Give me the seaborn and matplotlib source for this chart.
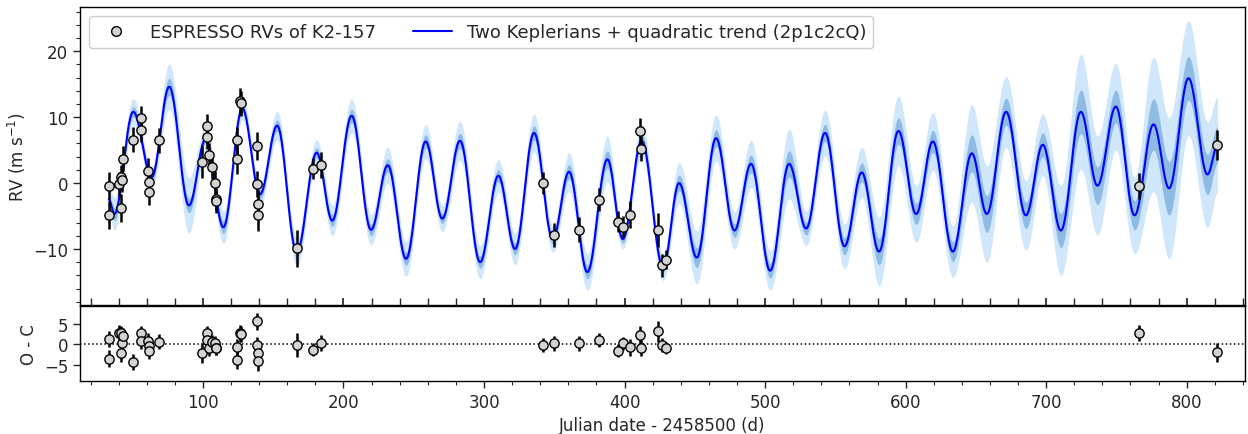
import numpy as np
import pandas as pd
import matplotlib
matplotlib.use("Agg")
import matplotlib.pyplot as plt
from matplotlib.lines import Line2D
from matplotlib.ticker import MultipleLocator
import seaborn as sns

# ---------------- data ----------------
# observations (Julian date - 2458500, RV in m/s, error, O-C residual)
t_obs = [33.3, 33.3, 40.4, 41.4, 42.6, 41.4, 43.3, 50.4, 55.6, 55.6, 60.6, 61.6,
         61.6, 68.7, 99.5, 103.1, 103.1, 104.3, 106.6, 108.5, 109.0, 109.5,
         124.0, 124.0, 126.2, 126.8, 138.2, 138.2, 139.4, 139.4, 167.1, 178.1,
         184.0, 341.8, 349.8, 367.8, 381.9, 395.6, 398.7, 403.9, 411.0, 411.7,
         423.6, 426.5, 429.5, 766.4, 821.5]
rv_obs = [-0.4, -4.8, -0.15, 0.9, 0.5, -3.8, 3.7, 6.6, 9.8, 8.1, 1.8, 0.1,
          -1.3, 6.5, 3.2, 8.6, 7.0, 4.2, 2.5, 0.0, -2.4, -2.8,
          6.5, 3.6, 12.4, 12.1, 5.6, -0.15, -3.2, -4.8, -9.9, 2.2,
          2.7, 0.0, -7.9, -7.1, -2.5, -5.9, -6.6, -4.8, 7.9, 5.2,
          -7.1, -12.5, -11.6, -0.5, 5.8]
err_obs = [2.0, 2.1, 1.8, 1.8, 1.9, 2.1, 1.9, 1.9, 1.9, 1.9, 2.0, 2.0,
           2.0, 1.9, 2.5, 1.9, 1.9, 1.9, 1.9, 1.8, 1.7, 1.7,
           2.0, 2.2, 2.0, 1.9, 2.1, 2.0, 2.1, 2.4, 2.85, 1.6,
           2.0, 1.7, 1.8, 1.9, 1.7, 1.6, 1.6, 2.0, 2.0, 1.9,
           2.6, 1.7, 1.5, 1.95, 2.3]
res_obs = [1.2, -3.6, 2.8, 2.6, 0.2, -2.2, 2.0, -4.3, 2.6, 0.8, 0.8, -0.4,
           -1.7, 0.6, -2.2, 2.6, 1.0, -1.0, 0.4, 0.2, -1.0, -0.9,
           -0.8, -3.9, 2.6, 2.4, 5.6, -0.2, -2.2, -4.1, -0.2, -1.4,
           0.2, -0.2, 0.2, 0.2, 0.9, -1.6, 0.2, -0.8, 2.3, -1.0,
           3.1, -0.2, -1.0, 2.6, -2.0]

# model curve: turning points (time, RV)
model_t = [33.0, 36.9, 50.4, 63.5, 76.0, 90.0, 101.9, 114.5, 128.0, 140.6,
           152.8, 166.7, 180.9, 192.0, 205.8, 219.6, 231.5, 244.5, 258.5, 270.3,
           282.9, 297.2, 310.2, 322.1, 335.6, 348.9, 360.5, 373.5, 387.8, 398.7,
           412.2, 427.4, 438.8, 451.4, 465.1, 478.2, 490.0, 503.6, 517.1, 529.2,
           542.7, 556.5, 568.8, 581.1, 594.9, 607.5, 619.4, 633.6, 647.1, 657.8,
           671.5, 685.6, 697.6, 710.5, 724.7, 736.5, 749.6, 762.9, 776.4, 787.5,
           801.3, 814.8, 822.0]
model_rv = [-2.5, -4.7, 10.8, 0.9, 14.6, -3.4, 6.7, -6.7, 11.3, -1.7,
            8.7, -10.5, 4.6, -5.7, 10.2, -7.1, 2.7, -11.5, 6.3, -5.4,
            6.4, -12.0, 1.1, -10.0, 7.6, -8.5, 1.7, -13.5, 3.6, -8.5,
            6.4, -12.8, 0.0, -11.3, 6.8, -7.2, 2.9, -13.3, 2.9, -6.9,
            7.6, -9.6, 1.6, -10.4, 7.9, -4.7, 6.3, -10.4, 4.5, -4.7,
            10.8, -4.9, 5.8, -7.2, 10.8, -0.4, 11.6, -4.9, 8.9, -0.8,
            15.9, 1.3, 5.8]
# half widths of the outer (light) and inner (dark) credible bands
band_outer = [2.0, 2.5, 2.0, 1.5, 3.4, 4.2, 1.8, 2.5, 1.7, 1.8,
              2.2, 2.2, 2.0, 2.3, 2.6, 2.3, 2.7, 2.6, 2.6, 2.0,
              3.0, 2.5, 2.5, 2.4, 2.9, 2.0, 2.9, 2.8, 3.5, 1.5,
              2.5, 2.0, 3.1, 4.0, 3.5, 2.8, 3.6, 3.0, 5.3, 2.6,
              3.5, 3.4, 3.8, 5.2, 5.3, 4.3, 4.4, 3.9, 7.4, 7.3,
              5.4, 5.3, 4.7, 6.8, 8.7, 7.5, 6.6, 5.8, 10.2, 10.7,
              8.7, 8.0, 7.2]
band_inner = [0.8, 0.95, 0.8, 0.6, 1.3, 1.1, 0.7, 0.95, 0.65, 0.7,
              0.85, 0.85, 0.75, 0.9, 1.0, 0.9, 1.0, 1.0, 1.0, 0.75,
              1.15, 0.95, 0.95, 0.9, 1.1, 0.75, 1.1, 1.05, 1.3, 0.6,
              0.95, 0.75, 1.2, 1.5, 1.3, 1.05, 1.35, 1.15, 2.0, 1.0,
              1.3, 1.3, 1.45, 2.0, 2.0, 1.6, 1.7, 1.5, 2.8, 2.8,
              2.05, 2.0, 1.8, 2.6, 3.3, 2.85, 2.5, 2.2, 3.9, 4.05,
              3.3, 3.05, 2.75]

# ---------------- smooth rendering between turning points ----------------
def smooth_connect(tk, vk, n=30):
    tk = np.asarray(tk, float)
    vk = np.asarray(vk, float)
    xs, ys = [], []
    s = np.linspace(0, 1, n, endpoint=False)
    w = (1 - np.cos(np.pi * s)) / 2
    for i in range(len(tk) - 1):
        xs.append(tk[i] + (tk[i + 1] - tk[i]) * s)
        ys.append(vk[i] + (vk[i + 1] - vk[i]) * w)
    xs.append([tk[-1]])
    ys.append([vk[-1]])
    return np.concatenate(xs), np.concatenate(ys)

tm, rvm = smooth_connect(model_t, model_rv)
_, bo = smooth_connect(model_t, band_outer)
_, bi = smooth_connect(model_t, band_inner)
model_df = pd.DataFrame({"t": tm, "rv": rvm})
obs_df = pd.DataFrame({"t": t_obs, "rv": rv_obs, "err": err_obs, "res": res_obs})

# ---------------- figure ----------------
sns.set_theme(style="ticks")
plt.rcParams["font.family"] = ["DejaVu Sans"]
plt.rcParams["axes.unicode_minus"] = True

W, H = 1248, 435
fig = plt.figure(figsize=(W / 100, H / 100), dpi=100)
ax1 = fig.add_axes([80 / W, 1 - 306 / H, 1165 / W, 298 / H])
ax2 = fig.add_axes([80 / W, 1 - 382 / H, 1165 / W, 75 / H], sharex=ax1)

light = "#d0e6fb"
dark = "#8dbbe4"
ax1.fill_between(tm, rvm - bo, rvm + bo, color=light, lw=0, zorder=1)
ax1.fill_between(tm, rvm - bi, rvm + bi, color=dark, lw=0, zorder=2)
sns.lineplot(data=model_df, x="t", y="rv", color="#0000ff", lw=1.5, ax=ax1,
             zorder=3, sort=False, estimator=None)

ax1.errorbar(obs_df["t"], obs_df["rv"], yerr=obs_df["err"], fmt="none",
             ecolor="black", elinewidth=1.8, capsize=0, zorder=4)
sns.scatterplot(data=obs_df, x="t", y="rv", color="#d3d3d3", edgecolor="black",
                linewidth=1.0, s=45, ax=ax1, zorder=5)

ax2.axhline(0, color="black", ls=":", lw=1.1, zorder=1)
ax2.errorbar(obs_df["t"], obs_df["res"], yerr=obs_df["err"], fmt="none",
             ecolor="black", elinewidth=1.8, capsize=0, zorder=4)
sns.scatterplot(data=obs_df, x="t", y="res", color="#d3d3d3", edgecolor="black",
                linewidth=1.0, s=45, ax=ax2, zorder=5)

ax1.set_xlim(12.5, 841.5)
ax1.set_ylim(-18.5, 26.7)
ax2.set_ylim(-9.0, 9.3)

ax1.set_ylabel("RV (m s$^{-1}$)", fontsize=12)
ax1.set_xlabel("")
ax2.set_ylabel("O - C", fontsize=12)
ax2.set_xlabel("Julian date - 2458500 (d)", fontsize=12)

ax1.yaxis.set_major_locator(MultipleLocator(10))
ax1.yaxis.set_minor_locator(MultipleLocator(2))
ax1.xaxis.set_major_locator(MultipleLocator(100))
ax2.xaxis.set_major_locator(MultipleLocator(100))
ax2.xaxis.set_minor_locator(MultipleLocator(20))
ax2.yaxis.set_major_locator(MultipleLocator(5))

ax1.tick_params(axis="x", which="both", labelbottom=False, direction="in", length=5)
ax1.tick_params(axis="y", which="major", labelsize=12, length=5, width=1)
ax1.tick_params(axis="y", which="minor", length=3, width=0.8)
ax2.tick_params(axis="x", which="major", labelsize=12, length=5, width=1)
ax2.tick_params(axis="x", which="minor", length=3, width=0.8)
ax2.tick_params(axis="y", which="major", labelsize=12, length=5, width=1)
for ax in (ax1, ax2):
    for sp in ax.spines.values():
        sp.set_visible(True)
        sp.set_color("black")
        sp.set_linewidth(1.0)

handles = [
    Line2D([], [], marker="o", ls="none", markerfacecolor="#d3d3d3",
           markeredgecolor="black", markersize=7),
    Line2D([], [], color="#0000ff", lw=1.5),
]
labels = ["ESPRESSO RVs of K2-157", "Two Keplerians + quadratic trend (2p1c2cQ)"]
ax1.legend(handles, labels, loc="upper left", ncol=2, fontsize=13,
           frameon=True, fancybox=True, framealpha=1, edgecolor="#cccccc",
           handlelength=2.2, columnspacing=2.0, borderaxespad=0.5)

fig.savefig("out.png", dpi=100)
